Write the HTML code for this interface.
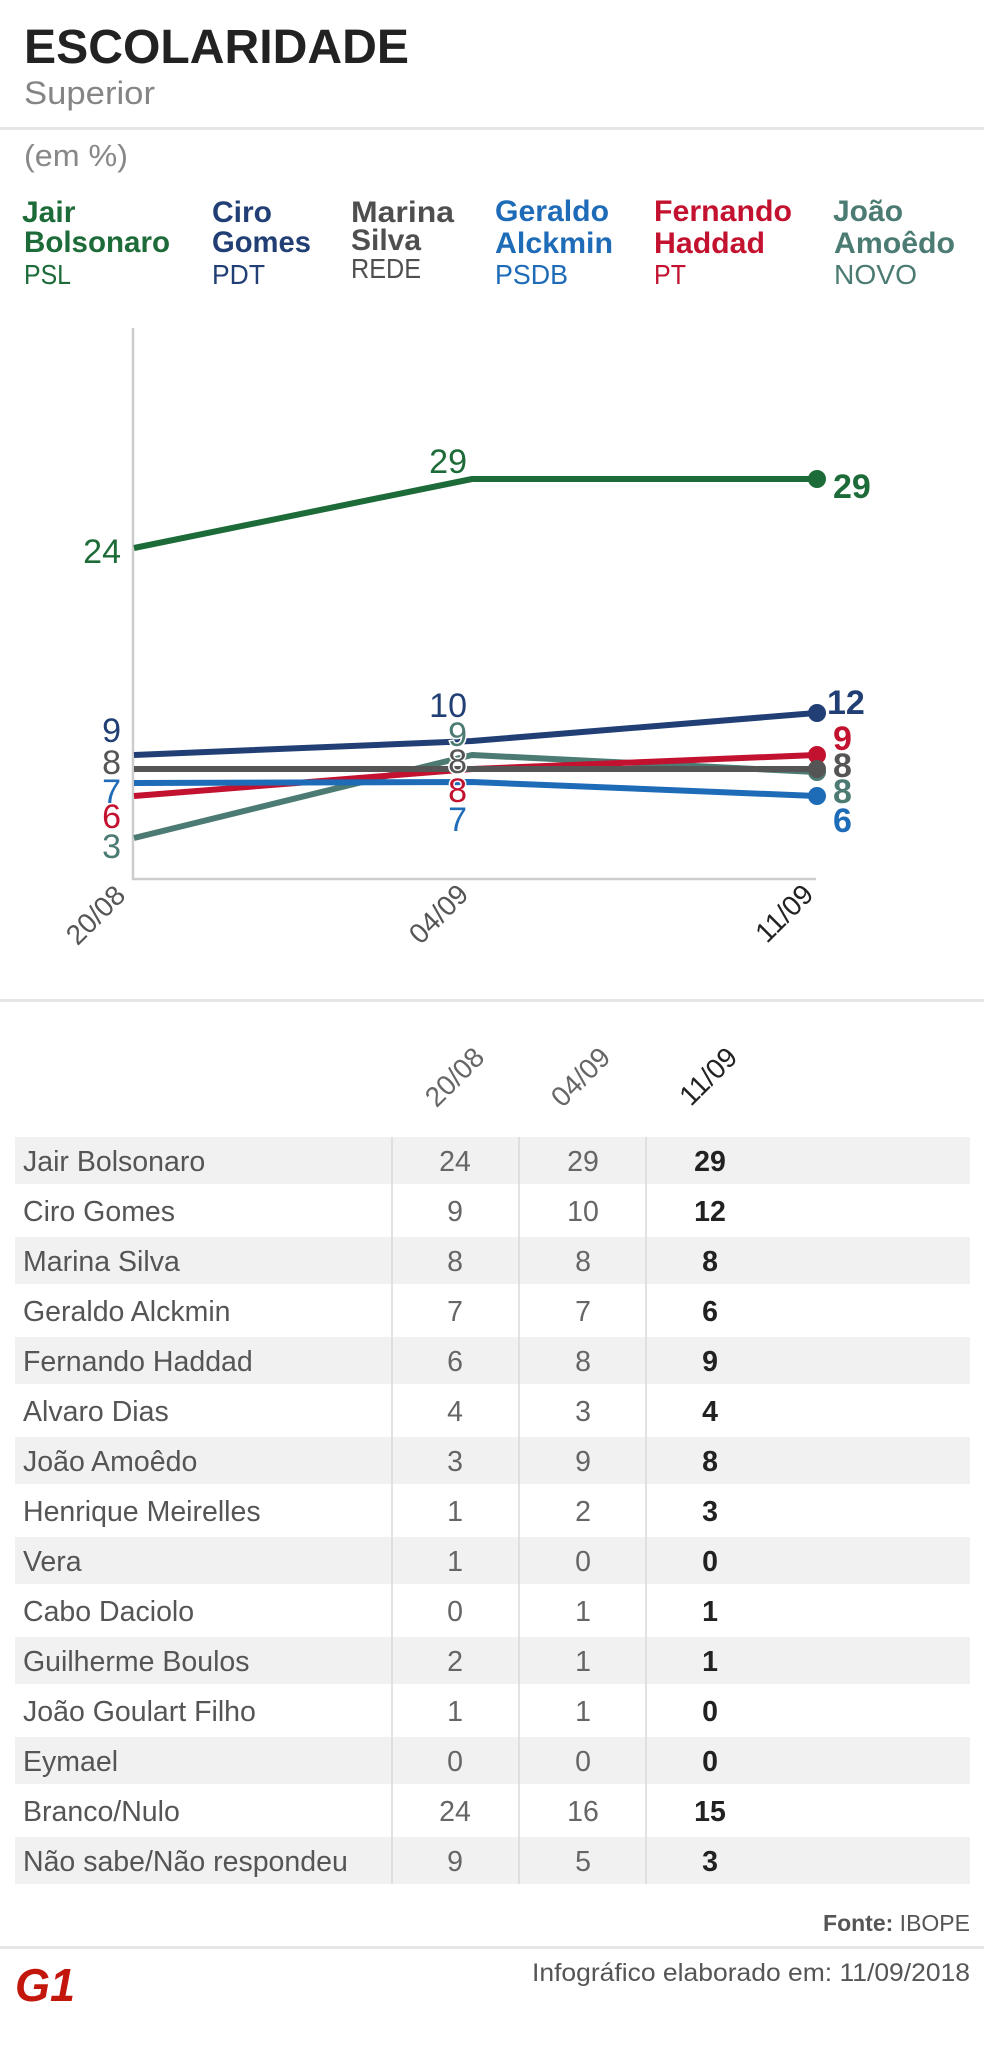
<!DOCTYPE html>
<html><head><meta charset="utf-8"><style>
html,body{margin:0;padding:0;background:#fff;}
svg{display:block;}
text{font-family:"Liberation Sans",sans-serif;}
</style></head><body>
<svg width="984" height="2057" viewBox="0 0 984 2057" xmlns="http://www.w3.org/2000/svg">
<rect width="984" height="2057" fill="#fff"/>
<!-- Header -->
<text x="24" y="63" font-size="48" font-weight="bold" fill="#222" textLength="385" lengthAdjust="spacingAndGlyphs">ESCOLARIDADE</text>
<text x="24" y="104" font-size="32" fill="#858585" textLength="131" lengthAdjust="spacingAndGlyphs">Superior</text>
<rect x="0" y="127" width="984" height="3" fill="#e6e6e6"/>
<text x="24" y="166" font-size="31" fill="#888" textLength="104" lengthAdjust="spacingAndGlyphs">(em %)</text>

<!-- Legend -->
<g font-size="30" font-weight="bold">
<text x="22" y="222" fill="#1d6b38">Jair</text>
<text x="24" y="252" fill="#1d6b38" textLength="146" lengthAdjust="spacingAndGlyphs">Bolsonaro</text>
<text x="212" y="222" fill="#213f75">Ciro</text>
<text x="212" y="252" fill="#213f75" textLength="99" lengthAdjust="spacingAndGlyphs">Gomes</text>
<text x="351" y="222" fill="#4f4f4f" textLength="103" lengthAdjust="spacingAndGlyphs">Marina</text>
<text x="351" y="250" fill="#4f4f4f">Silva</text>
<text x="495" y="221" fill="#1e6bb8" textLength="114" lengthAdjust="spacingAndGlyphs">Geraldo</text>
<text x="495" y="253" fill="#1e6bb8" textLength="118" lengthAdjust="spacingAndGlyphs">Alckmin</text>
<text x="654" y="221" fill="#c3122f" textLength="138" lengthAdjust="spacingAndGlyphs">Fernando</text>
<text x="654" y="253" fill="#c3122f" textLength="111" lengthAdjust="spacingAndGlyphs">Haddad</text>
<text x="833" y="221" fill="#4b7b73">João</text>
<text x="834" y="253" fill="#4b7b73" textLength="121" lengthAdjust="spacingAndGlyphs">Amoêdo</text>
</g>
<g font-size="28">
<text x="24" y="284" fill="#1d6b38" textLength="47" lengthAdjust="spacingAndGlyphs">PSL</text>
<text x="212" y="284" fill="#213f75" textLength="53" lengthAdjust="spacingAndGlyphs">PDT</text>
<text x="351" y="278" fill="#4f4f4f" textLength="70" lengthAdjust="spacingAndGlyphs">REDE</text>
<text x="495" y="284" fill="#1e6bb8" textLength="73" lengthAdjust="spacingAndGlyphs">PSDB</text>
<text x="654" y="284" fill="#c3122f" textLength="32" lengthAdjust="spacingAndGlyphs">PT</text>
<text x="834" y="284" fill="#4b7b73" textLength="83" lengthAdjust="spacingAndGlyphs">NOVO</text>
</g>

<!-- Chart axes -->
<line x1="133" y1="328" x2="133" y2="880" stroke="#cccccc" stroke-width="2.5"/>
<line x1="132" y1="879" x2="816" y2="879" stroke="#cccccc" stroke-width="2.5"/>

<!-- Series -->
<g fill="none" stroke-width="6" stroke-linejoin="round" stroke-linecap="butt">
<polyline points="134,838 472,755 816,772" stroke="#4b7b73"/>
<polyline points="134,796 472,769 816,755" stroke="#c3122f"/>
<polyline points="134,783 472,782 816,796" stroke="#1e6bb8"/>
<polyline points="134,769 472,769 816,769" stroke="#555555"/>
<polyline points="134,755 472,741 816,713" stroke="#213f75"/>
<polyline points="134,548 472,479 816,479" stroke="#1d6b38"/>
</g>
<circle cx="817" cy="772" r="9" fill="#4b7b73"/>
<circle cx="817" cy="755" r="9" fill="#c3122f"/>
<circle cx="817" cy="796" r="9" fill="#1e6bb8"/>
<circle cx="817" cy="769" r="9" fill="#555555"/>
<circle cx="817" cy="713" r="9" fill="#213f75"/>
<circle cx="817" cy="479" r="9" fill="#1d6b38"/>

<!-- Left labels -->
<g font-size="34" text-anchor="end">
<text x="121" y="563" fill="#1d6b38">24</text>
<text x="121" y="742" fill="#213f75">9</text>
<text x="121" y="774" fill="#555">8</text>
<text x="121" y="803" fill="#1e6bb8">7</text>
<text x="121" y="828" fill="#c3122f">6</text>
<text x="121" y="858" fill="#4b7b73">3</text>
</g>
<!-- Middle labels -->
<g font-size="34" text-anchor="end" stroke="#fff" stroke-width="3" paint-order="stroke">
<text x="467" y="473" fill="#1d6b38">29</text>
<text x="467" y="717" fill="#213f75">10</text>
<text x="467" y="746" fill="#4b7b73">9</text>
<text x="467" y="773" fill="#555">8</text>
<text x="467" y="802" fill="#c3122f">8</text>
<text x="467" y="831" fill="#1e6bb8">7</text>
</g>
<!-- Right labels -->
<g font-size="34" font-weight="bold">
<text x="833" y="498" fill="#1d6b38">29</text>
<text x="827" y="714" fill="#213f75">12</text>
<text x="833" y="750" fill="#c3122f">9</text>
<text x="833" y="777" fill="#555">8</text>
<text x="833" y="803" fill="#4b7b73">8</text>
<text x="833" y="832" fill="#1e6bb8">6</text>
</g>
<!-- X labels -->
<g font-size="28" text-anchor="end">
<text transform="translate(127,897) rotate(-45)" fill="#555">20/08</text>
<text transform="translate(470,896) rotate(-45)" fill="#555">04/09</text>
<text transform="translate(815,896) rotate(-45)" fill="#222">11/09</text>
</g>

<rect x="0" y="999" width="984" height="3" fill="#e6e6e6"/>

<!-- Table header -->
<g font-size="28" text-anchor="end">
<text transform="translate(486,1059) rotate(-45)" fill="#666">20/08</text>
<text transform="translate(612,1059) rotate(-45)" fill="#666">04/09</text>
<text transform="translate(739,1059) rotate(-45)" fill="#222">11/09</text>
</g>

<!-- Table bands -->
<g fill="#f1f1f1">
<rect x="15" y="1137" width="955" height="47"/>
<rect x="15" y="1237" width="955" height="47"/>
<rect x="15" y="1337" width="955" height="47"/>
<rect x="15" y="1437" width="955" height="47"/>
<rect x="15" y="1537" width="955" height="47"/>
<rect x="15" y="1637" width="955" height="47"/>
<rect x="15" y="1737" width="955" height="47"/>
<rect x="15" y="1837" width="955" height="47"/>
</g>
<g stroke="#d9d9d9" stroke-width="1.5">
<line x1="392" y1="1137" x2="392" y2="1884"/>
<line x1="519" y1="1137" x2="519" y2="1884"/>
<line x1="646" y1="1137" x2="646" y2="1884"/>
</g>

<!-- Table text -->
<g font-size="28.5" fill="#555">
<text x="23" y="1171">Jair Bolsonaro</text>
<text x="23" y="1221">Ciro Gomes</text>
<text x="23" y="1271">Marina Silva</text>
<text x="23" y="1321">Geraldo Alckmin</text>
<text x="23" y="1371">Fernando Haddad</text>
<text x="23" y="1421">Alvaro Dias</text>
<text x="23" y="1471">João Amoêdo</text>
<text x="23" y="1521">Henrique Meirelles</text>
<text x="23" y="1571">Vera</text>
<text x="23" y="1621">Cabo Daciolo</text>
<text x="23" y="1671">Guilherme Boulos</text>
<text x="23" y="1721">João Goulart Filho</text>
<text x="23" y="1771">Eymael</text>
<text x="23" y="1821">Branco/Nulo</text>
<text x="23" y="1871">Não sabe/Não respondeu</text>
</g>
<g font-size="28.5" fill="#666" text-anchor="middle">
<text x="455" y="1171">24</text><text x="583" y="1171">29</text>
<text x="455" y="1221">9</text><text x="583" y="1221">10</text>
<text x="455" y="1271">8</text><text x="583" y="1271">8</text>
<text x="455" y="1321">7</text><text x="583" y="1321">7</text>
<text x="455" y="1371">6</text><text x="583" y="1371">8</text>
<text x="455" y="1421">4</text><text x="583" y="1421">3</text>
<text x="455" y="1471">3</text><text x="583" y="1471">9</text>
<text x="455" y="1521">1</text><text x="583" y="1521">2</text>
<text x="455" y="1571">1</text><text x="583" y="1571">0</text>
<text x="455" y="1621">0</text><text x="583" y="1621">1</text>
<text x="455" y="1671">2</text><text x="583" y="1671">1</text>
<text x="455" y="1721">1</text><text x="583" y="1721">1</text>
<text x="455" y="1771">0</text><text x="583" y="1771">0</text>
<text x="455" y="1821">24</text><text x="583" y="1821">16</text>
<text x="455" y="1871">9</text><text x="583" y="1871">5</text>
</g>
<g font-size="28.5" fill="#222" font-weight="bold" text-anchor="middle">
<text x="710" y="1171">29</text>
<text x="710" y="1221">12</text>
<text x="710" y="1271">8</text>
<text x="710" y="1321">6</text>
<text x="710" y="1371">9</text>
<text x="710" y="1421">4</text>
<text x="710" y="1471">8</text>
<text x="710" y="1521">3</text>
<text x="710" y="1571">0</text>
<text x="710" y="1621">1</text>
<text x="710" y="1671">1</text>
<text x="710" y="1721">0</text>
<text x="710" y="1771">0</text>
<text x="710" y="1821">15</text>
<text x="710" y="1871">3</text>
</g>

<!-- Footer -->
<text x="970" y="1931" font-size="23" fill="#555" text-anchor="end"><tspan font-weight="bold">Fonte:</tspan> IBOPE</text>
<rect x="0" y="1946" width="984" height="3" fill="#e6e6e6"/>
<text x="970" y="1981" font-size="25" fill="#555" text-anchor="end" textLength="438" lengthAdjust="spacingAndGlyphs">Infográfico elaborado em: 11/09/2018</text>
<text x="15" y="2001" font-size="46" font-weight="bold" font-style="italic" fill="#c4170c" textLength="60" lengthAdjust="spacingAndGlyphs">G1</text>
</svg>
</body></html>
